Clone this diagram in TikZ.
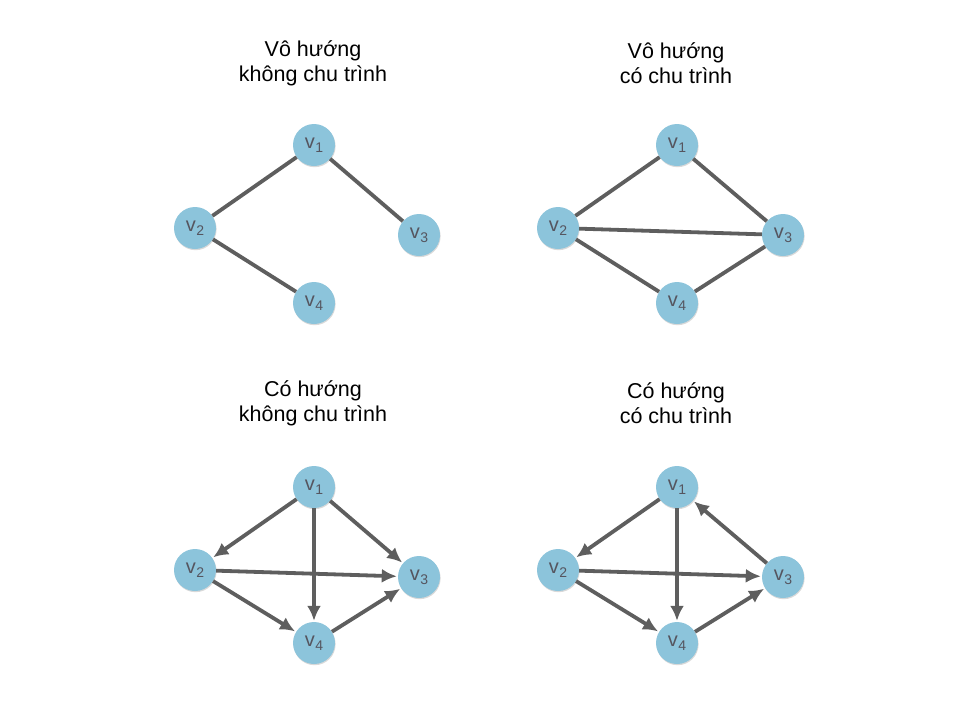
\documentclass[tikz,border=0pt]{standalone}
\usepackage{fontspec}
\setmainfont{Liberation Sans}
\usetikzlibrary{arrows.meta,shadows}
\definecolor{nodefill}{HTML}{8CC4DB}
\definecolor{edgecol}{HTML}{5E5E5E}
\definecolor{labcol}{HTML}{55555F}
\newcommand{\vlab}[1]{v\kern0.5pt\raisebox{-4pt}{\fontsize{14}{14}\selectfont #1}}
\tikzset{
  vert/.style={circle,fill=nodefill,minimum size=42pt,inner sep=0pt,text=labcol,
    font=\fontsize{20}{20}\selectfont,
    drop shadow={opacity=0.25,shadow xshift=0.6pt,shadow yshift=-1.2pt,fill=black!60}},
  ttl/.style={align=center,font=\fontsize{21.5}{25}\selectfont},
  edge/.style={draw=edgecol,line width=3.8pt},
  arr/.style={edge,-{Latex[length=15pt,width=14pt]},shorten >=1pt},
}
\begin{document}
\begin{tikzpicture}[x=1pt,y=-1pt]
\useasboundingbox (0,0) rectangle (980,702);
% titles
\node[ttl] (t1) at (313,63) {Vô hướng\\không chu trình};
\node[ttl] (t2) at (676,63) {Vô hướng\\có chu trình};
\node[ttl] (t3) at (313,403) {Có hướng\\không chu trình};
\node[ttl] (t4) at (676,403) {Có hướng\\có chu trình};
% graph A
\node[vert] (a1) at (314,145) {\vlab{1}};
\node[vert] (a2) at (195,228) {\vlab{2}};
\node[vert] (a3) at (419,235) {\vlab{3}};
\node[vert] (a4) at (314,303) {\vlab{4}};
\draw[edge] (a1) -- (a2);
\draw[edge] (a1) -- (a3);
\draw[edge] (a2) -- (a4);
% graph B
\node[vert] (b1) at (677,145) {\vlab{1}};
\node[vert] (b2) at (558,228) {\vlab{2}};
\node[vert] (b3) at (783,235) {\vlab{3}};
\node[vert] (b4) at (677,303) {\vlab{4}};
\draw[edge] (b1) -- (b2);
\draw[edge] (b1) -- (b3);
\draw[edge] (b2) -- (b3);
\draw[edge] (b2) -- (b4);
\draw[edge] (b4) -- (b3);
% graph C
\node[vert] (c1) at (314,487) {\vlab{1}};
\node[vert] (c2) at (195,570) {\vlab{2}};
\node[vert] (c3) at (419,577) {\vlab{3}};
\node[vert] (c4) at (314,643) {\vlab{4}};
\draw[arr] (c1) -- (c2);
\draw[arr] (c1) -- (c4);
\draw[arr] (c1) -- (c3);
\draw[arr] (c2) -- (c3);
\draw[arr] (c2) -- (c4);
\draw[arr] (c4) -- (c3);
% graph D
\node[vert] (d1) at (677,487) {\vlab{1}};
\node[vert] (d2) at (558,570) {\vlab{2}};
\node[vert] (d3) at (783,577) {\vlab{3}};
\node[vert] (d4) at (677,643) {\vlab{4}};
\draw[arr] (d1) -- (d2);
\draw[arr] (d1) -- (d4);
\draw[arr] (d3) -- (d1);
\draw[arr] (d2) -- (d3);
\draw[arr] (d2) -- (d4);
\draw[arr] (d4) -- (d3);
\end{tikzpicture}
\end{document}
